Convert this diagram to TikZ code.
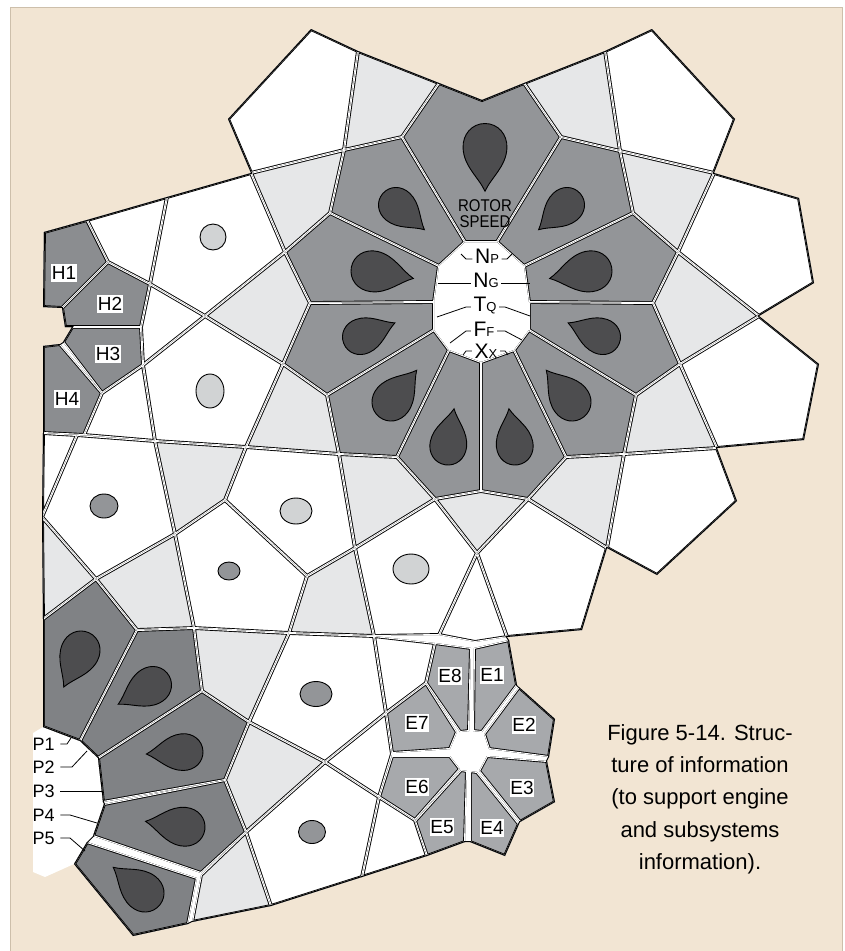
\documentclass[tikz,border=0pt]{standalone}
\usepackage{fontspec}
\setmainfont{Liberation Sans}
\newfontfamily\condfont[FakeStretch=0.88]{Liberation Sans}
\usetikzlibrary{positioning}
\definecolor{Paper}{HTML}{F2E5D3}
\definecolor{PaperLine}{HTML}{CDBFAB}
\definecolor{PaleCell}{HTML}{E6E7E8}
\definecolor{RotorCell}{HTML}{939598}
\definecolor{HCell}{HTML}{8B8D90}
\definecolor{PCell}{HTML}{808285}
\definecolor{ECell}{HTML}{A7A9AC}
\definecolor{DropFill}{HTML}{4D4D4F}
\definecolor{DotLight}{HTML}{D1D3D4}
\definecolor{DotMid}{HTML}{939598}
\tikzset{
  tag/.style={fill=white, inner xsep=0.8pt, inner ysep=2.5pt,
    font=\fontsize{19}{19}\selectfont},
  plabel/.style={inner sep=0.5pt, font=\fontsize{18}{18}\selectfont},
  hublabel/.style={inner sep=0.5pt, font=\fontsize{21}{21}\selectfont},
  leader/.style={line width=0.8pt},
  teardrop/.style={fill=DropFill, draw=black, line width=0.9pt},
  dot/.style={draw=black, line width=0.9pt, fill=#1},
}
% one voronoi tile: fill, black rim, white seam (all kept inside the tile)
\newcommand{\drawtile}[2]{%
  \begin{scope}
    \clip #2 -- cycle;
    \fill[#1] #2 -- cycle;
    \draw[line width=3.8pt] #2 -- cycle;
    \draw[white, line width=2pt] #2 -- cycle;
  \end{scope}}
\newcommand{\hubtag}[2]{#1{\fontsize{13}{13}\selectfont #2}}
% outer edge of the whole tiling
\def\blobpath{(44,232) -- (87,220) -- (167,197) -- (251,173) -- (228,119) -- (311,29)
  -- (358,51) -- (439,83) -- (482,100) -- (524,83) -- (605,51) -- (652,29) -- (735,119)
  -- (714,173) -- (799,198) -- (814,283) -- (759,316) -- (819,364) -- (804,440)
  -- (717,448) -- (737,501) -- (657,575) -- (607,548) -- (582,630) -- (507,637)
  -- (509,640) -- (517,685) -- (519,687) -- (555,719) -- (549,757) -- (547,761)
  -- (555,802) -- (520,822) -- (519,824) -- (505,856) -- (470,842) -- (465,842)
  -- (427,856) -- (362,877) -- (271,906) -- (192,922) -- (188,924) -- (133,936)
  -- (74,864) -- (87,842) -- (93,836) -- (104,804) -- (103,802) -- (98,758)
  -- (80,741) -- (43,727) -- (43,619) -- (42,517) -- (43,433) -- (43,346) -- (60,344)
  -- (63,342) -- (72,327) -- (65,327) -- (62,308) -- (43,307)}

\begin{document}
\begin{tikzpicture}[x=1pt, y=-1pt]
  \useasboundingbox (0,0) rectangle (844,951);
  \fill[white] (0,0) rectangle (844,951);
  \draw[PaperLine, line width=1.5pt, fill=Paper] (10.5,7.5) rectangle (842.5,970);
  % white field behind the P labels
  \fill[white] (33,733) -- (43,727) -- (80,741) -- (98,758) -- (103,802) -- (104,804)
    -- (93,836) -- (87,842) -- (74,864) -- (45,877) -- (33,872) -- cycle;
  \fill[white] \blobpath -- cycle;

  % top row
  \drawtile{white}{(228,119) -- (311,29) -- (358,51) -- (344,150) -- (251,173)}
  \drawtile{PaleCell}{(358,51) -- (439,83) -- (402,137) -- (344,150)}
  \drawtile{RotorCell}{(439,83) -- (482,100) -- (524,83) -- (561,137) -- (497,242) -- (465,242) -- (402,137)}
  \drawtile{PaleCell}{(524,83) -- (605,51) -- (620,151) -- (561,137)}
  \drawtile{white}{(605,51) -- (652,29) -- (735,119) -- (714,173) -- (620,151)}
  % rotor ring
  \drawtile{RotorCell}{(344,150) -- (402,137) -- (465,242) -- (439,266) -- (330,213)}
  \drawtile{RotorCell}{(330,213) -- (439,266) -- (434,302) -- (310,303) -- (285,252)}
  \drawtile{RotorCell}{(310,303) -- (434,302) -- (434,330) -- (327,395) -- (283,364)}
  \drawtile{RotorCell}{(327,395) -- (434,330) -- (449,350) -- (397,457) -- (339,454)}
  \drawtile{RotorCell}{(449,350) -- (481,362) -- (481,491) -- (435,499) -- (397,457)}
  \drawtile{RotorCell}{(514,350) -- (481,362) -- (481,491) -- (528,499) -- (566,457)}
  \drawtile{RotorCell}{(529,330) -- (514,350) -- (566,457) -- (624,454) -- (636,395)}
  \drawtile{RotorCell}{(529,302) -- (529,330) -- (636,395) -- (680,364) -- (653,303)}
  \drawtile{RotorCell}{(524,266) -- (529,302) -- (653,303) -- (678,252) -- (633,213)}
  \drawtile{RotorCell}{(561,137) -- (497,242) -- (524,266) -- (633,213) -- (620,151)}
  % right flank
  \drawtile{PaleCell}{(620,151) -- (714,173) -- (678,252) -- (633,213)}
  \drawtile{white}{(714,173) -- (799,198) -- (814,283) -- (759,316) -- (678,252)}
  \drawtile{PaleCell}{(678,252) -- (759,316) -- (680,364) -- (653,303)}
  \drawtile{white}{(759,316) -- (819,364) -- (804,440) -- (717,448) -- (680,364)}
  \drawtile{PaleCell}{(680,364) -- (717,448) -- (624,454) -- (636,395)}
  \drawtile{white}{(624,454) -- (717,448) -- (737,501) -- (657,575) -- (607,548)}
  \drawtile{PaleCell}{(566,457) -- (624,454) -- (607,548) -- (528,499)}
  \drawtile{white}{(528,499) -- (607,548) -- (582,630) -- (507,637) -- (477,553)}
  \drawtile{PaleCell}{(435,499) -- (481,491) -- (528,499) -- (477,553)}
  \drawtile{white}{(477,553) -- (507,637) -- (475,642) -- (439,635)}
  % left flank
  \drawtile{PaleCell}{(251,173) -- (344,150) -- (330,213) -- (285,252)}
  \drawtile{white}{(167,197) -- (251,173) -- (285,252) -- (205,316) -- (150,284)}
  \drawtile{white}{(87,220) -- (167,197) -- (150,284) -- (108,262)}
  \drawtile{HCell}{(44,232) -- (87,220) -- (108,262) -- (62,308) -- (43,307)}
  \drawtile{HCell}{(62,308) -- (108,262) -- (150,284) -- (141,327) -- (65,327)}
  \drawtile{white}{(150,284) -- (205,316) -- (143,365) -- (141,327)}
  \drawtile{HCell}{(72,327) -- (141,327) -- (143,365) -- (102,393) -- (63,342)}
  \drawtile{HCell}{(43,346) -- (60,344) -- (102,393) -- (84,435) -- (43,433)}
  \drawtile{white}{(102,393) -- (143,365) -- (155,441) -- (84,435)}
  \drawtile{PaleCell}{(205,316) -- (285,252) -- (310,303) -- (283,364)}
  \drawtile{white}{(143,365) -- (205,316) -- (283,364) -- (246,447) -- (155,441)}
  \drawtile{PaleCell}{(283,364) -- (327,395) -- (339,454) -- (246,447)}
  % middle band
  \drawtile{white}{(43,433) -- (77,435) -- (42,517)}
  \drawtile{white}{(77,435) -- (155,441) -- (175,534) -- (96,579) -- (42,517)}
  \drawtile{PaleCell}{(155,441) -- (246,447) -- (225,500) -- (175,534)}
  \drawtile{white}{(246,447) -- (339,454) -- (355,548) -- (307,576) -- (225,500)}
  \drawtile{PaleCell}{(339,454) -- (397,457) -- (435,499) -- (355,548)}
  \drawtile{white}{(355,548) -- (435,499) -- (477,553) -- (439,635) -- (374,636)}
  \drawtile{PaleCell}{(42,517) -- (96,579) -- (43,619)}
  \drawtile{PaleCell}{(96,579) -- (175,534) -- (194,628) -- (137,630)}
  \drawtile{white}{(175,534) -- (225,500) -- (307,576) -- (289,633) -- (194,628)}
  \drawtile{PaleCell}{(307,576) -- (355,548) -- (374,636) -- (289,633)}
  % lower band
  \drawtile{PCell}{(43,619) -- (96,579) -- (137,630) -- (80,741) -- (43,727)}
  \drawtile{PCell}{(137,630) -- (194,628) -- (202,691) -- (98,758) -- (80,741)}
  \drawtile{PCell}{(98,758) -- (202,691) -- (249,722) -- (225,780) -- (103,802)}
  \drawtile{PCell}{(104,804) -- (225,780) -- (246,832) -- (201,873) -- (93,836)}
  \drawtile{PCell}{(87,842) -- (197,878) -- (188,924) -- (133,936) -- (74,864)}
  \drawtile{PaleCell}{(194,628) -- (289,633) -- (249,722) -- (202,691)}
  \drawtile{white}{(289,633) -- (374,636) -- (386,713) -- (325,762) -- (249,722)}
  \drawtile{PaleCell}{(249,722) -- (325,762) -- (246,832) -- (225,780)}
  \drawtile{white}{(325,762) -- (379,797) -- (362,877) -- (271,906) -- (246,832)}
  \drawtile{PaleCell}{(201,875) -- (246,832) -- (271,906) -- (192,922)}
  \drawtile{white}{(374,636) -- (435,643) -- (426,683) -- (386,713)}
  \drawtile{white}{(325,762) -- (386,713) -- (392,754) -- (379,797)}
  \drawtile{white}{(379,797) -- (415,820) -- (427,856) -- (362,877)}
  % engine flower
  \drawtile{ECell}{(474,648) -- (509,640) -- (517,685) -- (482,732) -- (473,731)}
  \drawtile{ECell}{(519,687) -- (555,719) -- (549,757) -- (489,749) -- (484,734)}
  \drawtile{ECell}{(487,756) -- (547,761) -- (555,802) -- (520,822) -- (479,771)}
  \drawtile{ECell}{(477,772) -- (519,824) -- (505,856) -- (470,842) -- (470,771)}
  \drawtile{ECell}{(467,771) -- (465,842) -- (427,856) -- (415,821) -- (461,770)}
  \drawtile{ECell}{(392,756) -- (450,756) -- (460,769) -- (415,820) -- (379,797)}
  \drawtile{ECell}{(386,713) -- (426,683) -- (457,732) -- (450,749) -- (392,753)}
  \drawtile{ECell}{(435,643) -- (471,648) -- (469,731) -- (460,732) -- (426,683)}

  % single rim on the outside
  \begin{scope}
    \clip \blobpath -- cycle;
    \draw[line width=2pt] \blobpath -- cycle;
  \end{scope}

  % dots
  \foreach \x/\y/\rx/\ry/\c in {213/237/13/13/DotLight, 210/391/14/17/DotLight,
      104/506/14/12/DotMid, 296/511/16/13/DotLight, 229/571/11/9/DotMid,
      411/569/18/15/DotLight, 316/694/16/12.5/DotMid, 312/832/13.5/11.5/DotMid}
    \draw[dot=\c] (\x,\y) ellipse [x radius=\rx, y radius=\ry];

  % drops
  \foreach \x/\y/\a/\r in {485/145/-90/21.5, 396/205/-41/17.5, 567/205/-139/17.5,
      371/271/-10/20, 592/271/-170/20, 360/337/22/17.5, 603/337/158/17.5,
      391/402/51/19, 572/402/129/19, 448/447/81/18, 515/447/99/18,
      81/650/-115/19, 153/685/-151/18.5, 185/752/-177/18, 186/827/172/19,
      145/893/141/19}
    \draw[teardrop, shift={(\x,\y)}, rotate=\a, scale=\r]
      (2.15,0) .. controls (1.5,0.3) and (1.0,0.98) .. (0.15,1.02)
      .. controls (-0.5,1.05) and (-1,0.6) .. (-1,0)
      .. controls (-1,-0.6) and (-0.5,-1.05) .. (0.15,-1.02)
      .. controls (1.0,-0.98) and (1.5,-0.3) .. (2.15,0) -- cycle;

  % hub labels
  \node[font=\condfont\fontsize{17}{16}\selectfont, align=center, inner sep=0pt]
    (rotor) at (485,214) {ROTOR\\SPEED};
  \node[hublabel, anchor=base] (np) at (487,263) {\hubtag{N}{P}};
  \node[hublabel, anchor=base] (ng) at (486,287) {\hubtag{N}{G}};
  \node[hublabel, anchor=base] (tq) at (485,311) {\hubtag{T}{Q}};
  \node[hublabel, anchor=base] (ff) at (484,336) {\hubtag{F}{F}};
  \node[hublabel, anchor=base] (xx) at (486,358) {\hubtag{X}{X}};
  \draw[leader] (np.base west) ++(-2,-4) -- (466,259) -- (461,254);
  \draw[leader] (np.base east) ++(2,-4) -- (507,259) -- (512,254);
  \draw[leader] (ng.base west) ++(-2,-4) -- (438,283);
  \draw[leader] (ng.base east) ++(2,-4) -- (530,283);
  \draw[leader] (tq.base west) ++(-2,-4) -- (466,307) -- (437,317);
  \draw[leader] (tq.base east) ++(2,-4) -- (505,307) -- (530,316);
  \draw[leader] (ff.base west) ++(-2,-5) -- (466,331) -- (450,343);
  \draw[leader] (ff.base east) ++(2,-5) -- (505,331) -- (522,340);
  \draw[leader] (xx.base west) ++(-2,-7) -- (466,351) -- (463,355);
  \draw[leader] (xx.base east) ++(2,-7) -- (505,351) -- (508,355);

  % H and E tags
  \node[tag] (h1) at (64,273) {H1};
  \node[tag] (h2) at (110,304) {H2};
  \node[tag] (h3) at (108,354) {H3};
  \node[tag] (h4) at (67,399) {H4};
  \node[tag] (e1) at (492,675) {E1};
  \node[tag] (e2) at (524,725) {E2};
  \node[tag] (e3) at (522,788) {E3};
  \node[tag] (e4) at (492,828) {E4};
  \node[tag] (e5) at (442,827) {E5};
  \node[tag] (e6) at (417,787) {E6};
  \node[tag] (e7) at (417,723) {E7};
  \node[tag] (e8) at (450,676) {E8};

  % P labels
  \node[plabel, anchor=west] (p1) at (32,744) {P1};
  \node[plabel, anchor=west] (p2) at (32,767) {P2};
  \node[plabel, anchor=west] (p3) at (32,791) {P3};
  \node[plabel, anchor=west] (p4) at (32,815) {P4};
  \node[plabel, anchor=west] (p5) at (32,838) {P5};
  \draw[leader] (p1.east) ++(5,0) -- (67,744) -- (71,738);
  \draw[leader] (p2.east) ++(5,0) -- (72,767) -- (87,751);
  \draw[leader] (p3.east) ++(5,0) -- (102,791);
  \draw[leader] (p4.east) ++(5,0) -- (70,815) -- (97,823);
  \draw[leader] (p5.east) ++(5,0) -- (70,838) -- (85,851);

  % caption
  \node[font=\fontsize{22}{32.3}\selectfont, align=center] (caption) at (700,799)
    {Figure 5-14. Struc-\\ture of information\\(to support engine\\and subsystems\\information).};
\end{tikzpicture}
\end{document}
